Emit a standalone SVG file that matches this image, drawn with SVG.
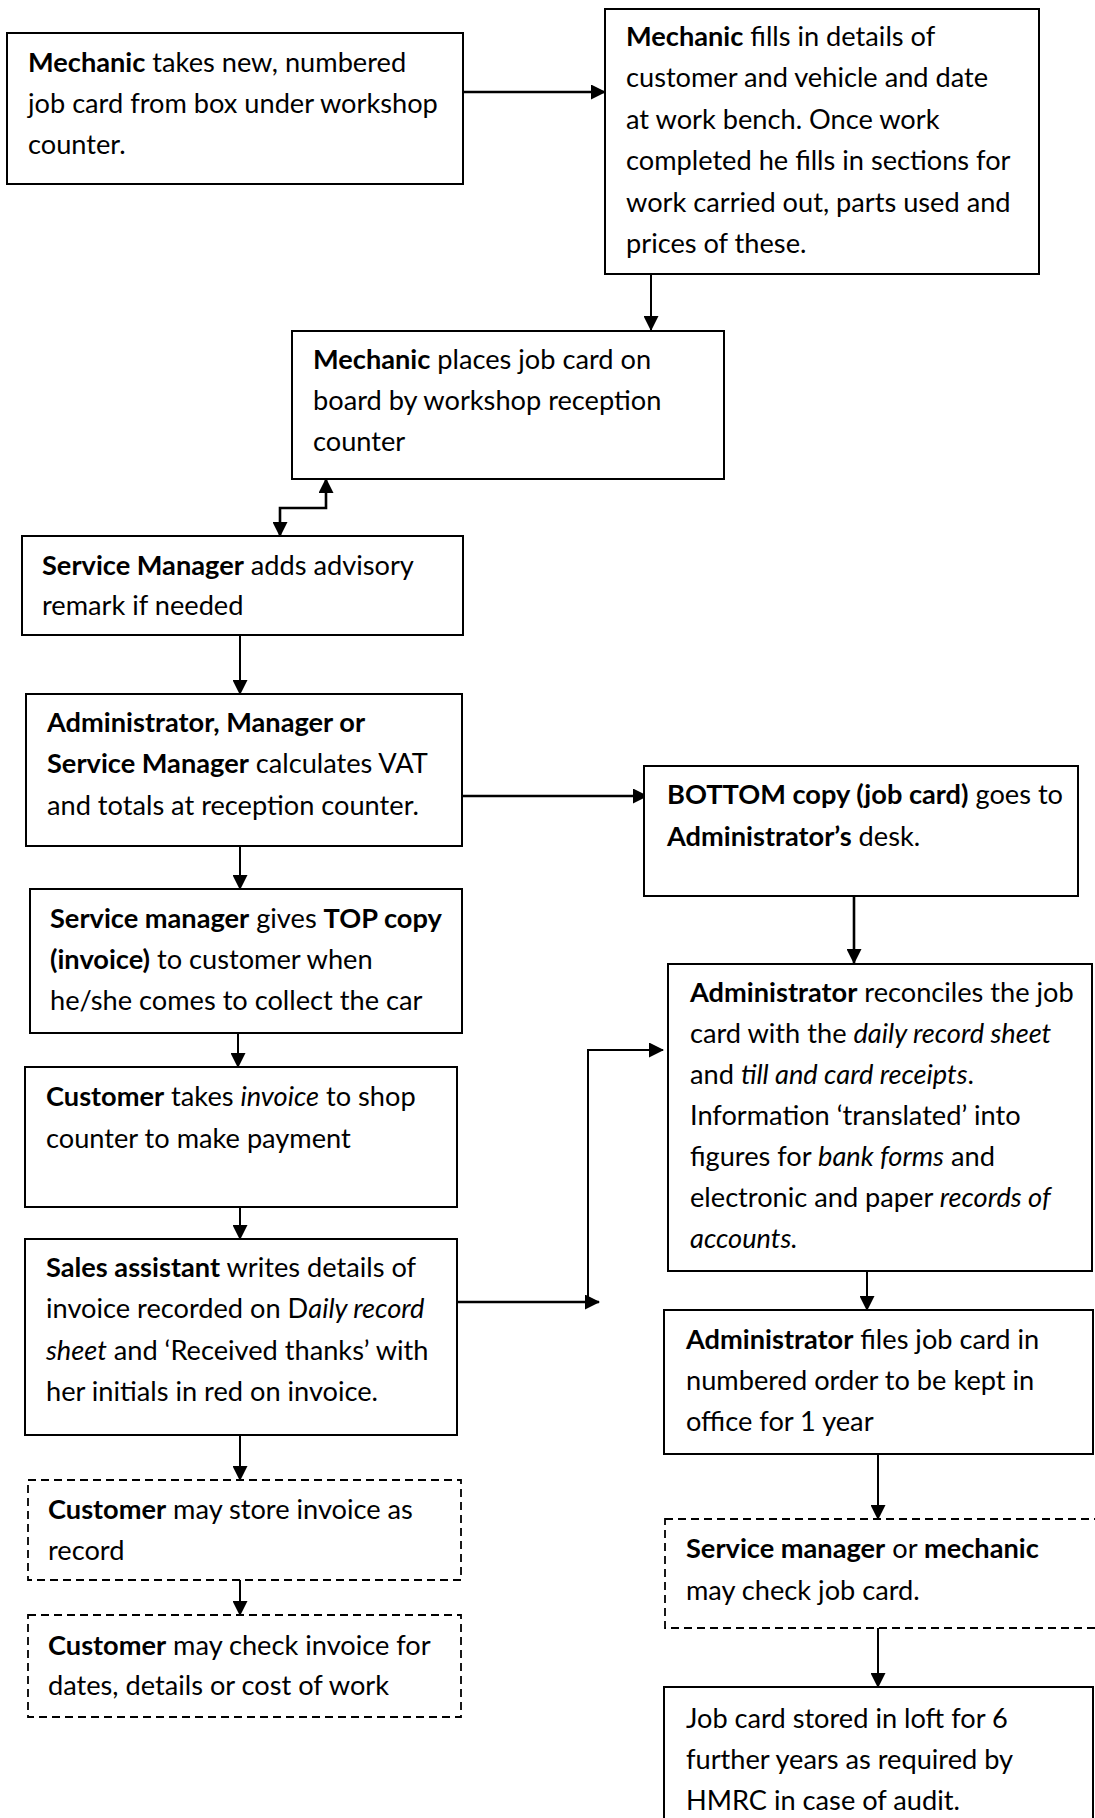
<svg xmlns="http://www.w3.org/2000/svg" width="1095" height="1818" viewBox="0 0 1095 1818">
  <style>
    .box { fill: #fff; stroke: #000; stroke-width: 2; }
    .dash { fill: #fff; stroke: #000; stroke-width: 1.8; stroke-dasharray: 8 5; }
    .t { font-family: Lato, "Liberation Sans", sans-serif; font-size: 27.2px; fill: #000; }
    .b { font-weight: bold; }
    .i { font-style: italic; }
    .conn { fill: none; stroke: #000; stroke-width: 2; }
    .thick { stroke-width: 2.6; }
  </style>
  <defs>
    <marker id="arrow" markerUnits="userSpaceOnUse" markerWidth="15" markerHeight="15" refX="14" refY="7.5" orient="auto-start-reverse">
      <path d="M0,0 L15,7.5 L0,15 z" fill="#000"/>
    </marker>
  </defs>
  <rect width="1095" height="1818" fill="#fff"/>

  <g id="connectors">
    <path class="conn thick" d="M459,92 H605" marker-end="url(#arrow)"/>
    <path class="conn" d="M651,274 V330" marker-end="url(#arrow)"/>
    <path class="conn thick" d="M326,479 V508 H280 V536" marker-start="url(#arrow)" marker-end="url(#arrow)"/>
    <path class="conn" d="M240,635 V694" marker-end="url(#arrow)"/>
    <path class="conn thick" d="M462,796 H647" marker-end="url(#arrow)"/>
    <path class="conn" d="M240,846 V889" marker-end="url(#arrow)"/>
    <path class="conn thick" d="M854,896 V963" marker-end="url(#arrow)"/>
    <path class="conn" d="M238,1033 V1067" marker-end="url(#arrow)"/>
    <path class="conn" d="M240,1207 V1239" marker-end="url(#arrow)"/>
    <path class="conn thick" d="M457,1302 H599" marker-end="url(#arrow)"/>
    <path class="conn" d="M588,1302 V1050 H663" marker-end="url(#arrow)"/>
    <path class="conn" d="M867,1271 V1310" marker-end="url(#arrow)"/>
    <path class="conn" d="M240,1435 V1480" marker-end="url(#arrow)"/>
    <path class="conn" d="M878,1454 V1519" marker-end="url(#arrow)"/>
    <path class="conn" d="M240,1580 V1615" marker-end="url(#arrow)"/>
    <path class="conn" d="M878,1628 V1687" marker-end="url(#arrow)"/>
  </g>

  <g id="take-card">
    <rect class="box" x="7" y="33" width="456" height="151"/>
    <text class="t" x="28" y="72"><tspan class="b">Mechanic</tspan> takes new, numbered</text>
    <text class="t" x="28" y="113">job card from box under workshop</text>
    <text class="t" x="28" y="154">counter.</text>
  </g>

  <g id="fill-details">
    <rect class="box" x="605" y="9" width="434" height="265"/>
    <text class="t" x="626" y="46"><tspan class="b">Mechanic</tspan> fills in details of</text>
    <text class="t" x="626" y="87">customer and vehicle and date</text>
    <text class="t" x="626" y="129">at work bench. Once work</text>
    <text class="t" x="626" y="170">completed he fills in sections for</text>
    <text class="t" x="626" y="212">work carried out, parts used and</text>
    <text class="t" x="626" y="253">prices of these.</text>
  </g>

  <g id="place-card">
    <rect class="box" x="292" y="331" width="432" height="148"/>
    <text class="t" x="313" y="369"><tspan class="b">Mechanic</tspan> places job card on</text>
    <text class="t" x="313" y="410">board by workshop reception</text>
    <text class="t" x="313" y="451">counter</text>
  </g>

  <g id="advisory-remark">
    <rect class="box" x="22" y="536" width="441" height="99"/>
    <text class="t" x="42" y="575"><tspan class="b">Service Manager</tspan> adds advisory</text>
    <text class="t" x="42" y="615">remark if needed</text>
  </g>

  <g id="calculate-vat">
    <rect class="box" x="26" y="694" width="436" height="152"/>
    <text class="t b" x="47" y="732">Administrator, Manager or</text>
    <text class="t" x="47" y="773"><tspan class="b">Service Manager</tspan> calculates VAT</text>
    <text class="t" x="47" y="815">and totals at reception counter.</text>
  </g>

  <g id="bottom-copy">
    <rect class="box" x="644" y="766" width="434" height="130"/>
    <text class="t" x="667" y="804"><tspan class="b">BOTTOM copy (job card)</tspan> goes to</text>
    <text class="t" x="667" y="846"><tspan class="b">Administrator’s</tspan> desk.</text>
  </g>

  <g id="top-copy">
    <rect class="box" x="30" y="889" width="432" height="144"/>
    <text class="t" x="50" y="928"><tspan class="b">Service manager</tspan> gives <tspan class="b">TOP copy</tspan></text>
    <text class="t" x="50" y="969"><tspan class="b">(invoice)</tspan> to customer when</text>
    <text class="t" x="50" y="1010">he/she comes to collect the car</text>
  </g>

  <g id="reconcile">
    <rect class="box" x="668" y="964" width="424" height="307"/>
    <text class="t" x="690" y="1002"><tspan class="b">Administrator</tspan> reconciles the job</text>
    <text class="t" x="690" y="1043">card with the <tspan class="i">daily record sheet</tspan></text>
    <text class="t" x="690" y="1084">and <tspan class="i">till and card receipts</tspan>.</text>
    <text class="t" x="690" y="1125">Information ‘translated’ into</text>
    <text class="t" x="690" y="1166">figures for <tspan class="i">bank forms</tspan> and</text>
    <text class="t" x="690" y="1207">electronic and paper <tspan class="i">records of</tspan></text>
    <text class="t i" x="690" y="1248">accounts.</text>
  </g>

  <g id="payment">
    <rect class="box" x="25" y="1067" width="432" height="140"/>
    <text class="t" x="46" y="1106"><tspan class="b">Customer</tspan> takes <tspan class="i">invoice</tspan> to shop</text>
    <text class="t" x="46" y="1148">counter to make payment</text>
  </g>

  <g id="sales-record">
    <rect class="box" x="25" y="1239" width="432" height="196"/>
    <text class="t" x="46" y="1277"><tspan class="b">Sales assistant</tspan> writes details of</text>
    <text class="t" x="46" y="1318">invoice recorded on D<tspan class="i">aily record</tspan></text>
    <text class="t" x="46" y="1360"><tspan class="i">sheet</tspan> and ‘Received thanks’ with</text>
    <text class="t" x="46" y="1401">her initials in red on invoice.</text>
  </g>

  <g id="file-card">
    <rect class="box" x="664" y="1310" width="429" height="144"/>
    <text class="t" x="686" y="1349"><tspan class="b">Administrator</tspan> files job card in</text>
    <text class="t" x="686" y="1390">numbered order to be kept in</text>
    <text class="t" x="686" y="1431">office for 1 year</text>
  </g>

  <g id="check-card">
    <rect class="dash" x="665" y="1519" width="440" height="109"/>
    <text class="t" x="686" y="1558"><tspan class="b">Service manager</tspan> or <tspan class="b">mechanic</tspan></text>
    <text class="t" x="686" y="1600">may check job card.</text>
  </g>

  <g id="loft-storage">
    <rect class="box" x="664" y="1687" width="429" height="150"/>
    <text class="t" x="686" y="1728">Job card stored in loft for 6</text>
    <text class="t" x="686" y="1769">further years as required by</text>
    <text class="t" x="686" y="1810">HMRC in case of audit.</text>
  </g>

  <g id="store-invoice">
    <rect class="dash" x="28" y="1480" width="433" height="100"/>
    <text class="t" x="48" y="1519"><tspan class="b">Customer</tspan> may store invoice as</text>
    <text class="t" x="48" y="1560">record</text>
  </g>

  <g id="check-invoice">
    <rect class="dash" x="28" y="1615" width="433" height="102"/>
    <text class="t" x="48" y="1655"><tspan class="b">Customer</tspan> may check invoice for</text>
    <text class="t" x="48" y="1695">dates, details or cost of work</text>
  </g>
</svg>
